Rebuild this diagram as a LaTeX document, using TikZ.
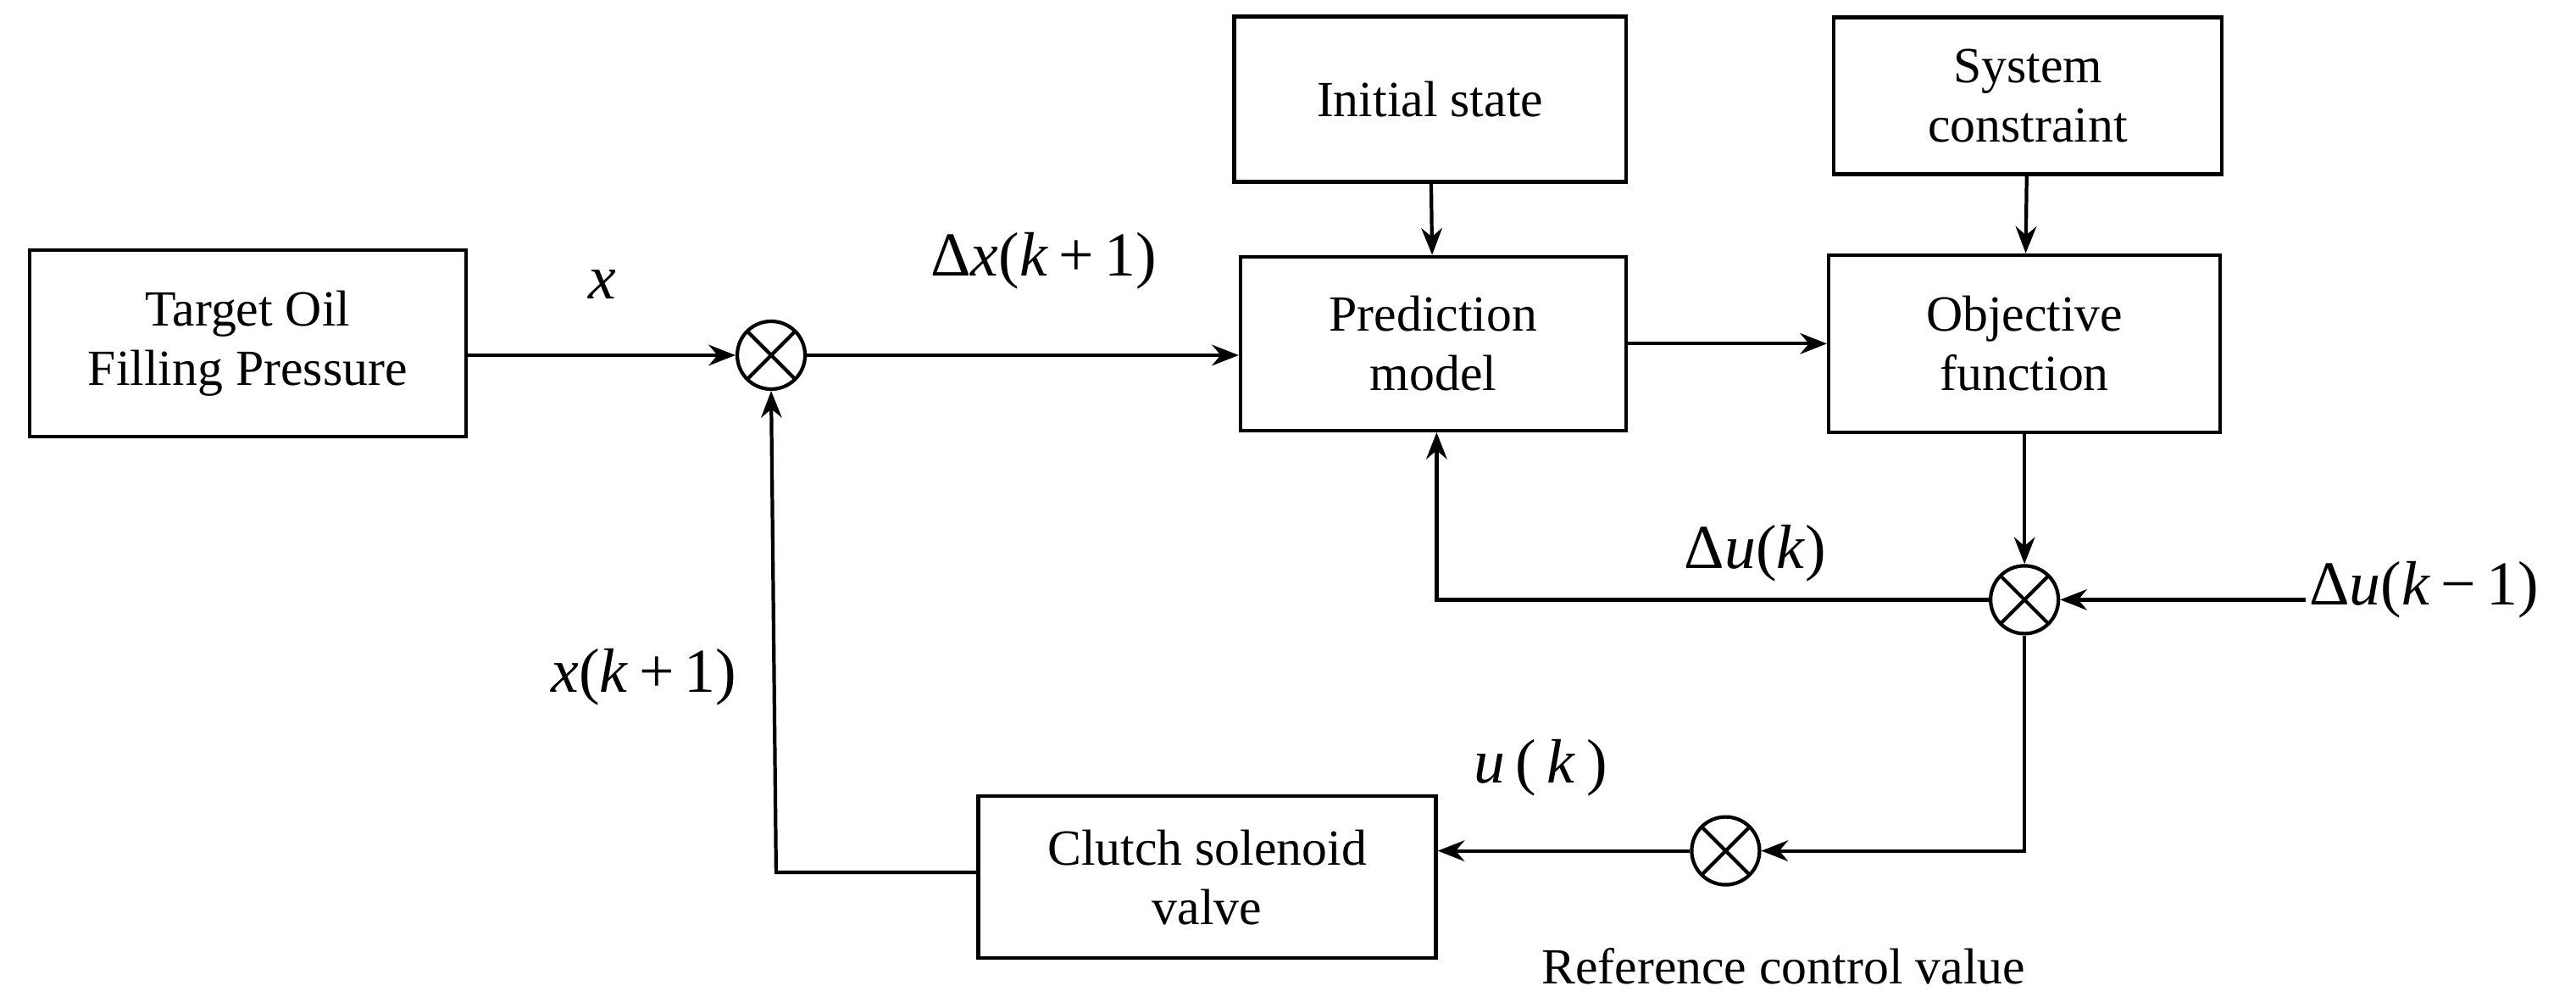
\documentclass[tikz,border=0pt]{standalone}
\usepackage{fontspec}
\setmainfont{Liberation Serif}
\usetikzlibrary{arrows.meta}
\newcommand{\vi}[1]{\textit{#1}}
\begin{document}
\begin{tikzpicture}[x=0.01949cm,y=-0.01949cm,
  box/.style={draw,line width=1.2pt,align=center,inner sep=0pt,font=\fontsize{17}{20}\selectfont},
  sum/.style={draw,circle,line width=1.2pt,minimum size=0.8cm,inner sep=0pt,
    path picture={\draw[line width=1.2pt] (path picture bounding box.north west)--(path picture bounding box.south east) (path picture bounding box.north east)--(path picture bounding box.south west);}},
  arr/.style={-{Stealth[length=9pt,width=7pt]},line width=1.2pt},
  lab/.style={font=\fontsize{21}{24}\selectfont}]
\useasboundingbox (0,0) rectangle (1560,610);
\node[box,minimum width=5.15cm,minimum height=2.2cm] (tgt) at (150,208) {Target Oil\\Filling Pressure};
\node[sum] (s1) at (467,215) {};
\node[box,minimum width=4.55cm,minimum height=2.05cm] (pm) at (868,208) {Prediction\\model};
\node[box,minimum width=4.62cm,minimum height=1.95cm] (is) at (866,60) {Initial state};
\node[box,minimum width=4.58cm,minimum height=1.85cm] (sc) at (1228,58) {System\\constraint};
\node[box,minimum width=4.62cm,minimum height=2.09cm] (of) at (1226,208) {Objective\\function};
\node[sum] (s2) at (1226,363) {};
\node[lab,inner sep=1pt] (duk1) at (1468,357) {Δ\vi{u}(\vi{k}\,−\,1)};
\node[sum] (s3) at (1045,515) {};
\node[box,minimum width=5.4cm,minimum height=1.91cm] (cv) at (731,531) {Clutch solenoid\\valve};
\node[lab] at (365,172) {\vi{x}};
\node[lab] at (632,158) {Δ\vi{x}(\vi{k}\,+\,1)};
\node[lab] at (1063,335) {Δ\vi{u}(\vi{k})};
\node[lab] at (390,410) {\vi{x}(\vi{k}\,+\,1)};
\node[lab] at (933,465) {\vi{u}\,(\,\vi{k}\,)};
\node[font=\fontsize{17}{20}\selectfont] at (1080,585) {Reference control value};
\draw[arr] (tgt.east|-s1) -- (s1.west);
\draw[arr] (s1.east) -- (pm.west|-s1);
\draw[arr] (is) -- (pm);
\draw[arr] (sc) -- (of);
\draw[arr] (pm.east) -- (of.west);
\draw[arr] (of) -- (s2);
\draw[arr] (duk1.west|-s2) -- (s2.east);
\draw[arr] (s2.west) -- (870,363) -- (pm.south-|870,0);
\draw[arr] (s2.south) |- (s3.east);
\draw[arr] (s3.west) -- (cv.east|-s3);
\draw[arr] (cv.west|-0,528) -- (470,528) -- (s1.south);
\end{tikzpicture}
\end{document}
